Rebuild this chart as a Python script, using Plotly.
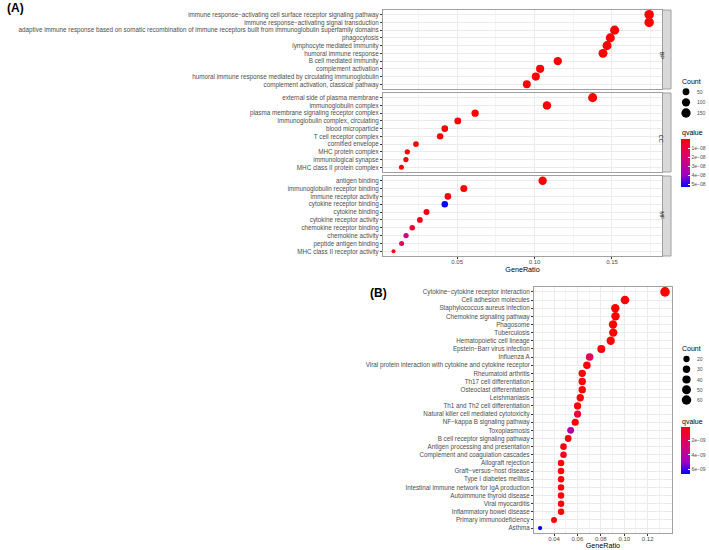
import plotly.graph_objects as go

W, H = 709, 550
FONT = "Liberation Sans, Arial, Helvetica, sans-serif"

# ---------------- Panel A (GO enrichment) ----------------
bp_terms = [
    "immune response−activating cell surface receptor signaling pathway",
    "immune response−activating signal transduction",
    "adaptive immune response based on somatic recombination of immune receptors built from immunoglobulin superfamily domains",
    "phagocytosis",
    "lymphocyte mediated immunity",
    "humoral immune response",
    "B cell mediated immunity",
    "complement activation",
    "humoral immune response mediated by circulating immunoglobulin",
    "complement activation, classical pathway",
]
bp_ratio = [0.174, 0.174, 0.1517, 0.1489, 0.1468, 0.1442, 0.115, 0.1036, 0.1008, 0.095]
bp_count = [160, 160, 140, 137, 135, 133, 106, 95, 93, 87]
bp_q = [1e-20, 1e-20, 1e-18, 1e-18, 1e-17, 1e-17, 1e-15, 1e-14, 1e-14, 1e-13]

cc_terms = [
    "external side of plasma membrane",
    "immunoglobulin complex",
    "plasma membrane signaling receptor complex",
    "immunoglobulin complex, circulating",
    "blood microparticle",
    "T cell receptor complex",
    "cornified envelope",
    "MHC protein complex",
    "immunological synapse",
    "MHC class II protein complex",
]
cc_ratio = [0.1375, 0.108, 0.0616, 0.0504, 0.042, 0.039, 0.0234, 0.0178, 0.0169, 0.014]
cc_count = [137, 108, 62, 50, 42, 39, 23, 18, 17, 14]
cc_q = [1e-16, 1e-15, 1e-13, 1e-12, 1e-11, 1e-11, 1e-10, 1e-10, 2e-10, 3e-10]

mf_terms = [
    "antigen binding",
    "immunoglobulin receptor binding",
    "immune receptor activity",
    "cytokine receptor binding",
    "cytokine binding",
    "cytokine receptor activity",
    "chemokine receptor binding",
    "chemokine activity",
    "peptide antigen binding",
    "MHC class II receptor activity",
]
mf_ratio = [0.1052, 0.0543, 0.044, 0.042, 0.0302, 0.0259, 0.021, 0.017, 0.0141, 0.0089]
mf_count = [105, 54, 44, 42, 30, 26, 21, 17, 14, 9]
mf_q = [1e-14, 1e-12, 2e-09, 5.3e-08, 4e-09, 5e-09, 8e-09, 2.7e-08, 1.5e-08, 3e-09]

a_x_ticks = [0.05, 0.10, 0.15]
a_x_ticklabels = ["0.05", "0.10", "0.15"]
a_x_minor = [0.025, 0.075, 0.125, 0.175]
a_size_breaks = [50, 100, 150]
a_q_ticks = [1e-08, 2e-08, 3e-08, 4e-08, 5e-08]
a_q_ticklabels = ["1e−08", "2e−08", "3e−08", "4e−08", "5e−08"]

# ---------------- Panel B (KEGG enrichment) ----------------
kegg_terms = [
    "Cytokine−cytokine receptor interaction",
    "Cell adhesion molecules",
    "Staphylococcus aureus infection",
    "Chemokine signaling pathway",
    "Phagosome",
    "Tuberculosis",
    "Hematopoietic cell lineage",
    "Epstein−Barr virus infection",
    "Influenza A",
    "Viral protein interaction with cytokine and cytokine receptor",
    "Rheumatoid arthritis",
    "Th17 cell differentiation",
    "Osteoclast differentiation",
    "Leishmaniasis",
    "Th1 and Th2 cell differentiation",
    "Natural killer cell mediated cytotoxicity",
    "NF−kappa B signaling pathway",
    "Toxoplasmosis",
    "B cell receptor signaling pathway",
    "Antigen processing and presentation",
    "Complement and coagulation cascades",
    "Allograft rejection",
    "Graft−versus−host disease",
    "Type I diabetes mellitus",
    "Intestinal immune network for IgA production",
    "Autoimmune thyroid disease",
    "Viral myocarditis",
    "Inflammatory bowel disease",
    "Primary immunodeficiency",
    "Asthma",
]
kegg_ratio = [0.1348, 0.1006, 0.0923, 0.0925, 0.0904, 0.0906, 0.0884, 0.0804, 0.0704, 0.0681,
              0.0641, 0.0641, 0.0641, 0.0624, 0.0601, 0.0601, 0.0581, 0.0542, 0.0521, 0.0481,
              0.0481, 0.046, 0.046, 0.046, 0.046, 0.046, 0.046, 0.046, 0.040, 0.0281]
kegg_count = [62, 46, 42, 43, 42, 42, 41, 37, 32, 31,
              30, 30, 30, 29, 28, 28, 27, 25, 24, 22,
              22, 21, 21, 21, 21, 21, 21, 21, 18, 13]
kegg_q = [1e-20, 1e-16, 1e-15, 1e-14, 1e-14, 1e-14, 1e-13, 1e-12, 1.8e-09, 1e-11,
          1e-11, 1e-11, 1e-11, 1e-11, 1e-11, 1.2e-09, 1e-10, 4.2e-09, 3e-10, 4e-10,
          7e-10, 1e-10, 1e-10, 1e-10, 1e-10, 1e-10, 1e-10, 1e-10, 2e-10, 6.6e-09]

b_x_ticks = [0.04, 0.06, 0.08, 0.10, 0.12]
b_x_ticklabels = ["0.04", "0.06", "0.08", "0.10", "0.12"]
b_x_minor = [0.03, 0.05, 0.07, 0.09, 0.11, 0.13]
b_size_breaks = [20, 30, 40, 50, 60]
b_q_ticks = [2e-09, 4e-09, 6e-09]
b_q_ticklabels = ["2e−09", "4e−09", "6e−09"]

# ---------------- helpers ----------------
def px(x):
    return x / W

def py(y):
    return 1 - y / H

def diam(counts, lo, hi, dmin, dmax):
    return [dmin + (dmax - dmin) * ((c - lo) / (hi - lo)) ** 0.5 for c in counts]

# ggplot-like red -> blue gradient (Lab interpolation); reversed because colours use -q
SCALE = [[0.0, "#0000FF"], [0.25, "#9A00C3"], [0.5, "#CA0089"], [0.75, "#E8004F"], [1.0, "#FF0000"]]

GRID = "#EBEBEB"
MINOR = "#F4F4F4"
BORDER = "#A0A0A0"
TICKC = "#333333"
TXT = "#4D4D4D"

fig = go.Figure()

a_all = bp_count + cc_count + mf_count
a_lo, a_hi = min(a_all), max(a_all)
A_DMIN, A_DMAX = 4.0, 9.5

for i, (terms, ratio, count, q) in enumerate([
        (bp_terms, bp_ratio, bp_count, bp_q),
        (cc_terms, cc_ratio, cc_count, cc_q),
        (mf_terms, mf_ratio, mf_count, mf_q)]):
    ax = "" if i == 0 else str(i + 1)
    fig.add_trace(go.Scatter(
        x=ratio, y=terms, mode="markers",
        marker=dict(size=diam(count, a_lo, a_hi, A_DMIN, A_DMAX), sizemode="diameter",
                    color=[-v for v in q], coloraxis="coloraxis", line=dict(width=0), opacity=1),
        xaxis="x" + ax, yaxis="y" + ax, showlegend=False, cliponaxis=False,
        hovertemplate="%{y}<br>%{x}<extra></extra>"))

b_lo, b_hi = min(kegg_count), max(kegg_count)
B_DMIN, B_DMAX = 4.3, 9.6
fig.add_trace(go.Scatter(
    x=kegg_ratio, y=kegg_terms, mode="markers",
    marker=dict(size=diam(kegg_count, b_lo, b_hi, B_DMIN, B_DMAX), sizemode="diameter",
                color=[-v for v in kegg_q], coloraxis="coloraxis2", line=dict(width=0), opacity=1),
    xaxis="x4", yaxis="y4", showlegend=False, cliponaxis=False,
    hovertemplate="%{y}<br>%{x}<extra></extra>"))

# size legends drawn on hidden axes
fig.add_trace(go.Scatter(
    x=[0] * len(a_size_breaks), y=a_size_breaks, mode="markers",
    marker=dict(size=diam(a_size_breaks, a_lo, a_hi, A_DMIN, A_DMAX), color="black",
                line=dict(width=0), opacity=1),
    xaxis="x5", yaxis="y5", showlegend=False, cliponaxis=False, hoverinfo="skip"))
fig.add_trace(go.Scatter(
    x=[0] * len(b_size_breaks), y=b_size_breaks, mode="markers",
    marker=dict(size=diam(b_size_breaks, b_lo, b_hi, B_DMIN, B_DMAX), color="black",
                line=dict(width=0), opacity=1),
    xaxis="x6", yaxis="y6", showlegend=False, cliponaxis=False, hoverinfo="skip"))

# ---------------- axes ----------------
a_xdom = [px(383), px(662)]
a_xrange = [0.0021, 0.1823]
panels_y = [(10, 89), (93, 172), (176, 256)]

def x_axis(dom, rng, ticks, labels, minor, anchor, bottom):
    d = dict(domain=dom, range=rng, anchor=anchor, showgrid=True, gridcolor=GRID, gridwidth=1,
             zeroline=False, showline=True, mirror=True, linecolor=BORDER, linewidth=1,
             tickmode="array", tickvals=ticks, ticktext=labels,
             minor=dict(tickmode="array", tickvals=minor, showgrid=True, gridcolor=MINOR, gridwidth=0.6, ticks=""),
             fixedrange=True)
    if bottom:
        d.update(ticks="outside", ticklen=2, tickwidth=1, tickcolor=TICKC, showticklabels=True,
                 tickfont=dict(family=FONT, size=6, color=TXT), ticklabelstandoff=-2,
                 title=dict(text="GeneRatio", font=dict(family=FONT, size=7.2, color="black"), standoff=1))
    else:
        d.update(ticks="", showticklabels=False)
    return d

def y_axis(dom, cats, anchor, fsize):
    n = len(cats)
    return dict(domain=dom, type="category", categoryorder="array", categoryarray=cats,
                tickmode="array", tickvals=cats, ticktext=cats,
                range=[n - 0.4, -0.6], anchor=anchor, showgrid=True, gridcolor=GRID, gridwidth=1,
                zeroline=False, showline=True, mirror=True, linecolor=BORDER, linewidth=1,
                ticks="outside", ticklen=2, tickwidth=1, tickcolor=TICKC,
                tickfont=dict(family=FONT, size=fsize, color=TXT), fixedrange=True)

layout = dict(width=W, height=H, autosize=False, margin=dict(l=0, r=0, t=0, b=0),
              paper_bgcolor="white", plot_bgcolor="white", showlegend=False,
              font=dict(family=FONT, color="black"), hovermode="closest")

for i, ((t, b), cats) in enumerate(zip(panels_y, [bp_terms, cc_terms, mf_terms])):
    ax = "" if i == 0 else str(i + 1)
    layout["xaxis" + ax] = x_axis(a_xdom, a_xrange, a_x_ticks, a_x_ticklabels, a_x_minor,
                                  "y" + ax, bottom=(i == 2))
    layout["yaxis" + ax] = y_axis([py(b), py(t)], cats, "x" + ax, 6.3)

layout["xaxis4"] = x_axis([px(534), px(671.7)], [0.0229, 0.1405], b_x_ticks, b_x_ticklabels,
                          b_x_minor, "y4", bottom=True)
layout["yaxis4"] = y_axis([py(533), py(287)], kegg_terms, "x4", 6.3)

# hidden axes for the size legends
layout["xaxis5"] = dict(domain=[px(686), px(695)], range=[0, 1], visible=False, anchor="y5", fixedrange=True)
layout["yaxis5"] = dict(domain=[py(113), py(91.7)], range=[max(a_size_breaks), min(a_size_breaks)],
                        visible=False, anchor="x5", fixedrange=True)
layout["xaxis6"] = dict(domain=[px(686.5), px(695)], range=[0, 1], visible=False, anchor="y6", fixedrange=True)
layout["yaxis6"] = dict(domain=[py(400), py(359)], range=[max(b_size_breaks), min(b_size_breaks)],
                        visible=False, anchor="x6", fixedrange=True)

def cbar(ycenter, length, tv, tt):
    return dict(x=px(681), xanchor="left", y=py(ycenter), yanchor="middle",
                len=length, lenmode="pixels", thickness=9, thicknessmode="pixels",
                outlinewidth=0, xpad=0, ypad=0, tickmode="array",
                tickvals=[-v for v in tv], ticktext=tt, ticks="inside", ticklen=2,
                tickcolor="white", tickwidth=1,
                tickfont=dict(family=FONT, size=5, color=TXT), title=dict(text=""))

layout["coloraxis"] = dict(colorscale=SCALE, colorbar=cbar(163, 48, a_q_ticks, a_q_ticklabels))
layout["coloraxis2"] = dict(colorscale=SCALE, colorbar=cbar(450, 46.6, b_q_ticks, b_q_ticklabels))

# strips and labels
shapes = []
annotations = []
for (t, b), lab in zip(panels_y, ["BP", "CC", "MF"]):
    shapes.append(dict(type="rect", xref="paper", yref="paper", x0=px(662.5), x1=px(671),
                       y0=py(b), y1=py(t), fillcolor="#D9D9D9", line=dict(color=BORDER, width=1),
                       layer="above"))
    annotations.append(dict(x=px(666.8), y=py((t + b) / 2), xref="paper", yref="paper",
                            text=lab, textangle=90, showarrow=False,
                            font=dict(family=FONT, size=5.5, color="#1A1A1A")))

annotations += [
    dict(x=px(5), y=py(8), xref="paper", yref="paper", text="<b>(A)</b>", showarrow=False,
         xanchor="left", yanchor="middle", font=dict(family=FONT, size=12, color="black")),
    dict(x=px(368), y=py(292.5), xref="paper", yref="paper", text="<b>(B)</b>", showarrow=False,
         xanchor="left", yanchor="middle", font=dict(family=FONT, size=12, color="black")),
    dict(x=px(680), y=py(81.7), xref="paper", yref="paper", text="Count", showarrow=False,
         xanchor="left", yanchor="middle", font=dict(family=FONT, size=7, color="black")),
    dict(x=px(680), y=py(133), xref="paper", yref="paper", text="qvalue", showarrow=False,
         xanchor="left", yanchor="middle", font=dict(family=FONT, size=7, color="black")),
    dict(x=px(680), y=py(348.7), xref="paper", yref="paper", text="Count", showarrow=False,
         xanchor="left", yanchor="middle", font=dict(family=FONT, size=7, color="black")),
    dict(x=px(680), y=py(421.7), xref="paper", yref="paper", text="qvalue", showarrow=False,
         xanchor="left", yanchor="middle", font=dict(family=FONT, size=7, color="black")),
]
for v in a_size_breaks:
    annotations.append(dict(x=1, y=v, xref="x5", yref="y5", text=str(v), showarrow=False,
                            xanchor="left", yanchor="middle", font=dict(family=FONT, size=5, color=TXT)))
for v in b_size_breaks:
    annotations.append(dict(x=1, y=v, xref="x6", yref="y6", text=str(v), showarrow=False,
                            xanchor="left", yanchor="middle", font=dict(family=FONT, size=5, color=TXT)))

layout["shapes"] = shapes
layout["annotations"] = annotations
fig.update_layout(**layout)

fig.write_html("out.html", config={"displayModeBar": False},
               post_script="document.body.style.margin='0';document.body.style.padding='0';")
